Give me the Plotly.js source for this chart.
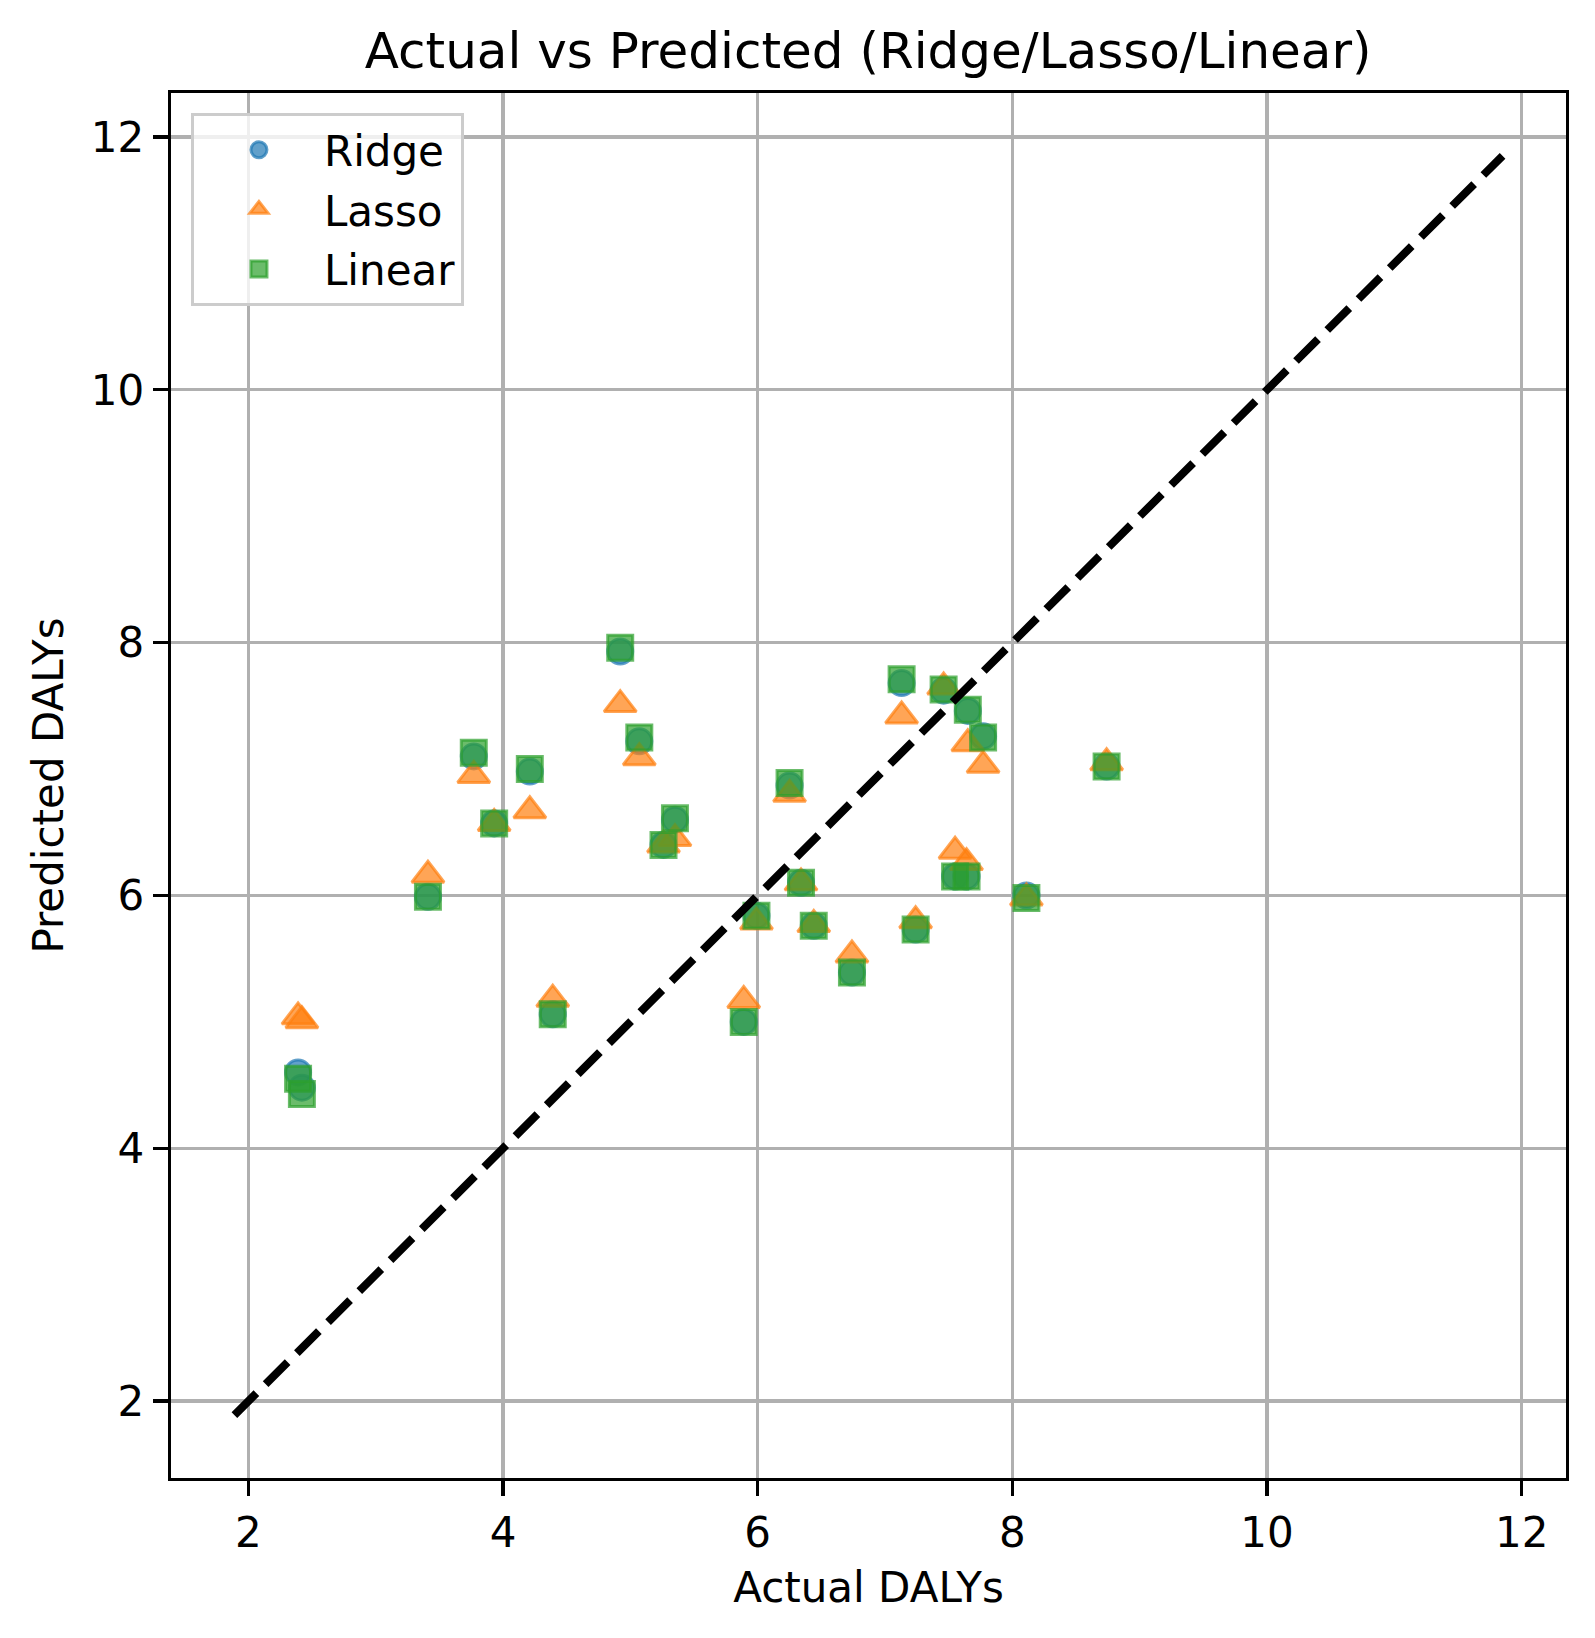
<!DOCTYPE html>
<html>
<head>
<meta charset="utf-8">
<script src="https://cdn.plot.ly/plotly-3.0.1.min.js"></script>
<style>
  body { margin: 0; background: #fff; }
  #chart { width: 1595px; height: 1638px; }
</style>
</head>
<body>
<div id="chart"></div>
<script>
// actual DALYs of the test rows
const actual = [2.39, 2.42, 3.41, 3.77, 3.93, 4.21, 4.39, 4.92, 5.07, 5.26, 5.35, 5.89, 5.99,
    6.25, 6.34, 6.44, 6.74, 7.13, 7.24, 7.46, 7.55, 7.64, 7.65, 7.77, 8.11, 8.74];
const ridgePred = [4.60, 4.48, 5.99, 7.10, 6.57, 6.98, 5.06, 7.93, 7.22, 6.40, 6.60, 5.00, 5.84,
    6.87, 6.10, 5.76, 5.39, 7.68, 5.73, 7.62, 6.15, 6.15, 7.46, 7.26, 6.00, 7.02];
const lassoPred = [5.04, 5.01, 6.16, 6.95, 6.57, 6.67, 5.18, 7.51, 7.09, 6.40, 6.45, 5.17, 5.79,
    6.80, 6.10, 5.77, 5.53, 7.42, 5.80, 7.65, 6.35, 6.26, 7.20, 7.03, 5.98, 7.05];
const linearPred = [4.55, 4.43, 5.99, 7.13, 6.57, 7.00, 5.06, 7.96, 7.25, 6.40, 6.61, 5.00, 5.84,
    6.89, 6.10, 5.76, 5.39, 7.71, 5.73, 7.63, 6.15, 6.15, 7.47, 7.25, 5.98, 7.02];
// ends of the y = x reference line
const lineRange = [1.89, 11.85];
const ticks = [2, 4, 6, 8, 10, 12];

const FONT = 'DejaVu Sans, Liberation Sans, sans-serif';

function scatter(name, y, rgb, symbol, size) {
    const c = 'rgba(' + rgb + ',0.7)';
    return {
        x: actual,
        y: y,
        name: name,
        legendgroup: name,
        mode: 'markers',
        type: 'scatter',
        marker: { symbol: symbol, size: size, color: c, line: { color: c, width: 3 } }
    };
}

const traces = [
    scatter('Ridge', ridgePred, '31,119,180', 'circle', 25),
    scatter('Lasso', lassoPred, '255,127,14', 'triangle-up', 28),
    scatter('Linear', linearPred, '44,160,44', 'square', 25),
    {
        x: lineRange,
        y: lineRange,
        mode: 'lines',
        type: 'scatter',
        showlegend: false,
        line: { color: 'black', width: 8, dash: '31px,13px' }
    }
];

const pad = 0.05 * (lineRange[1] - lineRange[0]);
const range = [lineRange[0] - pad, lineRange[1] + pad];

function axis(title, standoff) {
    return {
        range: range,
        tickvals: ticks,
        ticks: 'outside',
        ticklen: 15,
        tickwidth: 3.3,
        tickcolor: 'black',
        tickfont: { family: FONT, size: 42, color: 'black' },
        showline: true,
        mirror: true,
        linecolor: 'black',
        linewidth: 3.3,
        showgrid: true,
        gridcolor: '#b0b0b0',
        gridwidth: 3.3,
        zeroline: false,
        title: { text: title, font: { family: FONT, size: 42, color: 'black' }, standoff: standoff }
    };
}

const layout = {
    width: 1595,
    height: 1638,
    margin: { l: 171, r: 29, t: 93, b: 160 },
    paper_bgcolor: 'white',
    plot_bgcolor: 'white',
    font: { family: FONT, color: 'black' },
    title: {
        text: 'Actual vs Predicted (Ridge/Lasso/Linear)',
        font: { family: FONT, size: 50, color: 'black' },
        x: 0.5443,
        xanchor: 'center',
        yref: 'container',
        y: 1 - 50 / 1638,
        yanchor: 'middle'
    },
    xaxis: axis('Actual DALYs', 18),
    yaxis: axis('Predicted DALYs', 15),
    showlegend: true,
    legend: {
        x: 0.0143,
        y: 0.9856,
        xanchor: 'left',
        yanchor: 'top',
        bgcolor: 'rgba(255,255,255,0.8)',
        bordercolor: '#cccccc',
        borderwidth: 3,
        itemwidth: 120,
        tracegroupgap: 2,
        font: { family: FONT, size: 42, color: 'black' }
    }
};

Plotly.newPlot('chart', traces, layout, { displayModeBar: false, staticPlot: true });
</script>
</body>
</html>
